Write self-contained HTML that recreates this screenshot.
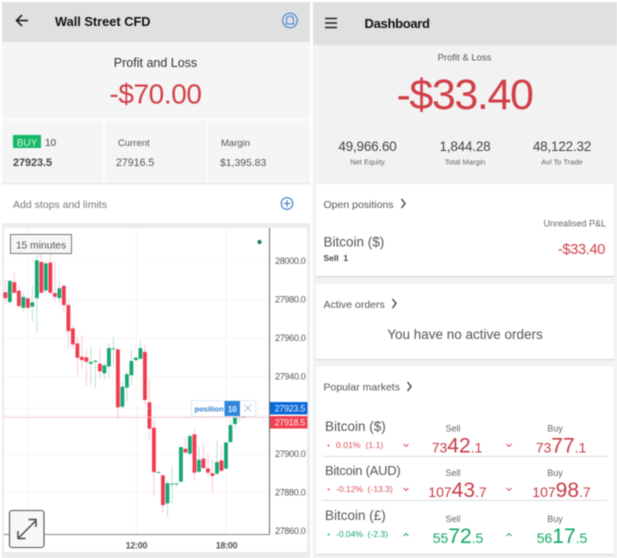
<!DOCTYPE html>
<html>
<head>
<meta charset="utf-8">
<style>
html,body{margin:0;padding:0;background:#fff;width:617px;height:558px;overflow:hidden}
svg{display:block;filter:blur(0.45px)}
text{font-family:"Liberation Sans",sans-serif}
</style>
</head>
<body>
<svg id="root" width="617" height="558" viewBox="0 0 617 558" xmlns="http://www.w3.org/2000/svg">
<defs><clipPath id="plot-clip"><rect x="4" y="229" width="305" height="305"/></clipPath></defs>

<!-- LEFT PANEL -->
<g>
<rect x="2" y="2" width="308" height="554" fill="#f5f5f5"/>
<rect x="2" y="2" width="308" height="40" fill="#e0e0e0"/>
<path d="M28 20.5H17M22 15l-5.500 5.500L22 26" fill="none" stroke="#111" stroke-width="1.500"/>
<text x="55" y="26" font-size="12.800" font-weight="bold" fill="#111">Wall Street CFD</text>
<g fill="none" stroke="#3b82d0">
<circle cx="290" cy="20.500" r="7.300" stroke-width="1.100"/>
<path d="M286.500 24v-4.500a3.500 3.500 0 0 1 7 0V24zM285.500 24h9" stroke-width="1"/>
</g>
<text x="155.500" y="67" font-size="12.500" fill="#333" text-anchor="middle">Profit and Loss</text>
<text x="155.500" y="103.500" font-size="28" letter-spacing="-0.400" fill="#d23f48" text-anchor="middle">-$70.00</text>

<rect x="2" y="119" width="308" height="1.500" fill="#fff"/>
<rect x="103" y="120" width="1.500" height="63" fill="#fff"/>
<rect x="206" y="120" width="1.500" height="63" fill="#fff"/>
<rect x="13" y="135" width="28" height="13" fill="#14b866"/>
<text x="27" y="146" font-size="10" fill="#d5f5e3" text-anchor="middle">BUY</text>
<text x="45" y="146" font-size="10" fill="#444">10</text>
<text x="13" y="166" font-size="10.800" font-weight="bold" fill="#444">27923.5</text>
<text x="118" y="146" font-size="9.500" fill="#555">Current</text>
<text x="116" y="166" font-size="10.600" fill="#555">27916.5</text>
<text x="221" y="146" font-size="9.500" fill="#555">Margin</text>
<text x="220" y="166" font-size="10.400" fill="#555">$1,395.83</text>

<rect x="2" y="183" width="308" height="40" fill="#fff"/>
<rect x="2" y="183" width="308" height="1.200" fill="#e4e4e4"/>
<text x="13" y="208" font-size="10.500" fill="#777">Add stops and limits</text>
<g fill="none" stroke="#3b78c8" stroke-width="1.100">
<circle cx="287" cy="203.500" r="5.800"/><path d="M283.500 203.500h7M287 200v7"/>
</g>
<rect x="2" y="223" width="308" height="335" fill="#ececec"/>
<rect x="4" y="228" width="303" height="324" rx="2" fill="#fff"/>
</g>

<g id="chart">
<g id="grid"></g>
<g id="candles"></g>
<g id="price-lines"></g>
<rect x="269" y="228" width="1" height="306" fill="#666"/>
<rect x="4" y="534" width="266" height="1" fill="#888"/>
<g id="y-ticks" clip-path="url(#plot-clip)"></g>
<g id="x-ticks"></g>
<circle cx="259.500" cy="242" r="2.100" fill="#1f7d5c"/>
<g>
<rect x="10.500" y="234.500" width="61" height="19" fill="#f6f6f6" stroke="#777" stroke-width="1"/>
<text x="41" y="248.500" font-size="10.300" fill="#555" text-anchor="middle">15 minutes</text>
</g>
<g>
<rect x="191.500" y="400.500" width="64" height="16" fill="#fff" fill-opacity="0.92" stroke="#bcd8ee" stroke-width="0.800" stroke-dasharray="2 1"/>
<text x="194.500" y="411.500" font-size="7.500" font-weight="bold" fill="#2a7fd0">position</text>
<rect x="224.500" y="401" width="15.500" height="15" fill="#2f86dc"/>
<text x="232.300" y="411.800" font-size="8" font-weight="bold" fill="#e8f4ff" text-anchor="middle">10</text>
<path d="M244.500 404.800l6.500 6.500M251 404.800l-6.500 6.500" stroke="#9cbfdc" stroke-width="0.900" fill="none"/>
</g>
<g>
<rect x="270" y="402" width="37.500" height="12.500" fill="#0a68d8"/>
<text x="305" y="411.500" font-size="9" letter-spacing="-0.300" fill="#e7f1ff" text-anchor="end">27923.5</text>
</g>
<g>
<rect x="270" y="416" width="37.500" height="12.500" fill="#f0404f"/>
<text x="305" y="425.500" font-size="9" letter-spacing="-0.300" fill="#ffe9eb" text-anchor="end">27918.5</text>
</g>
<g>
<rect x="9.500" y="510.500" width="34.500" height="37" rx="2.500" fill="#f7f7f7" stroke="#555" stroke-width="1.100"/>
<path d="M18 538.500l18-18M28.500 519.500h7.500v7.500M18 531v7.500h7.500" fill="none" stroke="#444" stroke-width="1.400"/>
</g>
</g>

<!-- RIGHT PANEL -->
<g>
<rect x="313" y="2" width="304" height="556" fill="#f2f2f2"/>
<rect x="313" y="2" width="304" height="43" fill="#e0e0e0"/>
<path d="M325 18.500h12M325 23h12M325 27.500h12" stroke="#222" stroke-width="1.400"/>
<text x="364.500" y="28" font-size="13" letter-spacing="-0.300" font-weight="bold" fill="#111">Dashboard</text>
<text x="464.500" y="60.500" font-size="9.500" fill="#555" text-anchor="middle">Profit &amp; Loss</text>
<text x="464.500" y="109" font-size="43" letter-spacing="-1.400" fill="#d23f48" text-anchor="middle">-$33.40</text>

<text x="367.500" y="151" font-size="13.500" letter-spacing="-0.200" fill="#444" text-anchor="middle">49,966.60</text>
<text x="367.500" y="164.500" font-size="7.500" fill="#666" text-anchor="middle">Net Equity</text>
<text x="465" y="151" font-size="13.500" letter-spacing="-0.200" fill="#444" text-anchor="middle">1,844.28</text>
<text x="465" y="164.500" font-size="7.500" fill="#666" text-anchor="middle">Total Margin</text>
<text x="562" y="151" font-size="13.500" letter-spacing="-0.200" fill="#444" text-anchor="middle">48,122.32</text>
<text x="562" y="164.500" font-size="7.500" fill="#666" text-anchor="middle">Avl To Trade</text>

<g>
<rect x="316" y="184" width="298" height="92" rx="2" fill="#fff"/>
<rect x="316" y="276" width="298" height="1.200" fill="#d9d9d9"/>
<text x="323.500" y="208" font-size="10.500" fill="#555">Open positions</text>
<path d="M401.500 199l3.500 4.500-3.500 4.500" fill="none" stroke="#333" stroke-width="1.300"/>
<text x="606" y="226.500" font-size="9" fill="#666" text-anchor="end">Unrealised P&amp;L</text>
<text x="323.500" y="246.500" font-size="13.500" fill="#555">Bitcoin ($)</text>
<text x="323.500" y="261" font-size="8.500" font-weight="bold" fill="#444">Sell&#160;&#160;1</text>
<text x="605" y="254" font-size="14.500" letter-spacing="-0.300" fill="#d23f48" text-anchor="end">-$33.40</text>
</g>

<g>
<rect x="316" y="284" width="298" height="75" rx="2" fill="#fff"/>
<rect x="316" y="359" width="298" height="1.200" fill="#d9d9d9"/>
<text x="323.500" y="308" font-size="10.500" fill="#555">Active orders</text>
<path d="M392.500 299l3.500 4.500-3.500 4.500" fill="none" stroke="#333" stroke-width="1.300"/>
<text x="465" y="339" font-size="13.500" fill="#555" text-anchor="middle">You have no active orders</text>
</g>

<g>
<rect x="316" y="366" width="298" height="188" rx="2" fill="#fff"/>
<rect x="316" y="554" width="298" height="1.200" fill="#d9d9d9"/>
<text x="323.500" y="390.500" font-size="10.500" fill="#555">Popular markets</text>
<path d="M407.500 382l3.500 4.500-3.500 4.500" fill="none" stroke="#333" stroke-width="1.300"/>
<rect x="323" y="456" width="284" height="0.800" fill="#d5d5d5"/>
<rect x="323" y="500" width="284" height="0.800" fill="#d5d5d5"/>
</g>

<g>
<text x="325" y="431" font-size="13.500" fill="#555">Bitcoin ($)</text>
<circle cx="328.500" cy="445.500" r="1" fill="#d9505a"/>
<text x="336" y="448" font-size="8.700" fill="#d9505a">0.01%&#160;&#160;(1.1)</text>
<path d="M403.500 444l2.500 2.500 2.500-2.500M506.500 444l2.500 2.500 2.500-2.500" fill="none" stroke="#d23f48" stroke-width="0.900"/>
<text x="453" y="431.500" font-size="9" fill="#666" text-anchor="middle">Sell</text>
<text x="457" y="452.500" fill="#c93c46" text-anchor="middle" font-size="14">73<tspan font-size="21">42</tspan>.1</text>
<text x="555" y="431.500" font-size="9" fill="#666" text-anchor="middle">Buy</text>
<text x="561" y="452.500" fill="#c93c46" text-anchor="middle" font-size="14">73<tspan font-size="21">77</tspan>.1</text>
</g>

<g>
<text x="325" y="475" font-size="13" letter-spacing="-0.250" fill="#555">Bitcoin (AUD)</text>
<circle cx="328.500" cy="489.500" r="1" fill="#d9505a"/>
<text x="336" y="492" font-size="8.500" fill="#d9505a">-0.12%&#160;&#160;(-13.3)</text>
<path d="M403.500 488l2.500 2.500 2.500-2.500M506.500 488l2.500 2.500 2.500-2.500" fill="none" stroke="#d23f48" stroke-width="0.900"/>
<text x="453" y="476" font-size="9" fill="#666" text-anchor="middle">Sell</text>
<text x="457.500" y="497" fill="#c93c46" text-anchor="middle" font-size="14">107<tspan font-size="21">43</tspan>.7</text>
<text x="555" y="476" font-size="9" fill="#666" text-anchor="middle">Buy</text>
<text x="561.500" y="497" fill="#c93c46" text-anchor="middle" font-size="14">107<tspan font-size="21">98</tspan>.7</text>
</g>

<g>
<text x="325" y="520" font-size="13.500" fill="#555">Bitcoin (£)</text>
<circle cx="328.500" cy="534.500" r="1" fill="#12a866"/>
<text x="336" y="537" font-size="8.500" fill="#12a866">-0.04%&#160;&#160;(-2.3)</text>
<path d="M403.500 536l2.500-2.500 2.500 2.500M506.500 536l2.500-2.500 2.500 2.500" fill="none" stroke="#12a866" stroke-width="0.900"/>
<text x="453" y="522" font-size="9" fill="#666" text-anchor="middle">Sell</text>
<text x="458" y="543" fill="#10a862" text-anchor="middle" font-size="14">55<tspan font-size="21">72</tspan>.5</text>
<text x="555" y="522" font-size="9" fill="#666" text-anchor="middle">Buy</text>
<text x="562" y="543" fill="#10a862" text-anchor="middle" font-size="14">56<tspan font-size="21">17</tspan>.5</text>
</g>
</g>
</svg>

<script>
const opens  = [27983.6,27978.6,27988.9,27984.4,27975.6,27980.5,27976.2,27980.6,27999.3,27984.6,27999,27983.2,27980.6,27987,27977,27964.9,27957.1,27950.2,27949.9,27946.6,27947.6,27946.6,27941.6,27945.2,27954.2,27954,27924.3,27934.2,27940.6,27948.5,27949.2,27952.7,27926.6,27913.4,27890.1,27888.7,27874.2,27884.1,27884.1,27885.4,27902.5,27900,27910,27890.6,27897.4,27892.3,27889.8,27889.6,27896.5,27892.2,27906,27915.3,27919.1,27919.5];
const closes = [27980.6,27989.6,27983.4,27976.5,27981.2,27975.6,27978.4,28000.2,27983.4,27998.6,27983.4,27981.3,27985.7,27977,27963.5,27956.6,27949.7,27948.5,27947.6,27947.5,27948.2,27942.6,27945.7,27954.7,27954.6,27924,27934.7,27941.2,27948,27949.7,27954.7,27927.8,27912.9,27890.4,27890.4,27873.3,27884.6,27884.4,27884.4,27903.4,27900.6,27909.1,27890.1,27896.8,27892.5,27890.1,27888.4,27895.6,27891.1,27905.8,27914.8,27918.8,27920,27918.6];
const highs  = [27990,27989.6,27994,27986.9,27983.1,27981.3,27987,28002.9,28003.8,27999.5,28003.8,27999.5,27989.6,27987.4,27980.1,27966.6,27960.6,27961.5,27954.6,27955.9,27948.5,27954.6,27946.8,27957.1,27960.6,27954.6,27937.3,27942.5,27953.7,27950.2,27958.5,27956.3,27938.7,27917.4,27891.5,27889.8,27886.3,27892.9,27885.4,27903.6,27908.8,27910.8,27913.1,27903.6,27905.7,27900.1,27896.7,27906.7,27904.4,27906.2,27917.4,27920,27920.9,27919.6];
const lows   = [27977.9,27977,27982.7,27975.3,27973.9,27974.4,27968.4,27962.8,27983.1,27983.1,27982.2,27978.4,27977.9,27973,27954.2,27954.2,27941.1,27943.8,27935,27935.5,27933.8,27939,27938.1,27939,27945.9,27917.7,27923.4,27926.9,27935.5,27947.6,27948.5,27925.2,27907.4,27877.7,27889.8,27869.4,27867.3,27874.2,27882.8,27885.4,27900,27898.4,27885.8,27889.8,27892,27888.4,27879.7,27888.9,27890.6,27891.8,27905.3,27913.1,27916.5,27918.3];
const priceTicks = [28000,27980,27960,27940,27900,27880,27860];
const gridPrices = [28000,27980,27960,27940,27920,27900,27880];
const timeTickIndex = [29,49];
const timeTickLabels = ['12:00','18:00'];
const gridTimeIndex = [5,29,49];
const buyPrice = 27923.5;
const sellPrice = 27918.5;

const NS = 'http://www.w3.org/2000/svg';
const xScale = i => 5.33 + 4.503 * i;
const yScale = v => 260.7 + (28000 - v) * 1.929;

function mk(tag, parent, attrs) {
  const el = document.createElementNS(NS, tag);
  for (const k in attrs) el.setAttribute(k, attrs[k]);
  parent.appendChild(el);
  return el;
}

const gridG = document.getElementById('grid');
gridPrices.forEach(p => {
  const l = mk('rect', gridG, {x: 4, y: yScale(p), width: 265, height: 0.7, fill: '#f8eef0'});
  
  
});
gridTimeIndex.forEach(i => {
  const l = mk('rect', gridG, {x: xScale(i), y: 228, width: 0.7, height: 306, fill: '#f5eef2'});
  
  
});

const candleG = document.getElementById('candles');
opens.forEach((o, i) => {
  const c = closes[i];
  const up = c >= o;
  const x = xScale(i);
  const wick = mk('rect', candleG, {x: x - 0.4, y: yScale(highs[i]), width: 0.8, height: Math.max(0.5, yScale(lows[i]) - yScale(highs[i])), fill: up ? '#a9dcc6' : '#f9bcc4'});
  
  
  const top = yScale(Math.max(o, c));
  const h = Math.max(0.9, Math.abs(yScale(o) - yScale(c)));
  const body = mk('rect', candleG, {x: x - 1.9, y: top, width: 3.8, height: h, fill: up ? '#17a673' : '#f23a50'});
  
  
});

const linesG = document.getElementById('price-lines');
const buyLine = mk('line', linesG, {x1: 4, x2: 269, y1: yScale(buyPrice), y2: yScale(buyPrice), stroke: '#bfe0f5', 'stroke-width': 0.8, 'stroke-dasharray': '1.5 2'});


const sellLine = mk('line', linesG, {x1: 4, x2: 269, y1: yScale(sellPrice) - 0.6, y2: yScale(sellPrice) - 0.6, stroke: '#f8c4c8', 'stroke-width': 0.8});



const yG = document.getElementById('y-ticks');
priceTicks.forEach(p => {
  const t = mk('text', yG, {x: 275, y: yScale(p) + 3.3, 'font-size': 9, 'letter-spacing': -0.3, fill: '#555'});
  
  
  t.textContent = p.toFixed(1);
});

const xG = document.getElementById('x-ticks');
timeTickIndex.forEach((idx, n) => {
  const t = mk('text', xG, {x: xScale(idx) + 0.5, y: 548.5, 'font-size': 9, 'letter-spacing': -0.3, 'font-weight': 'bold', fill: '#555', 'text-anchor': 'middle'});
  
  
  t.textContent = timeTickLabels[n];
});
</script>
</body>
</html>
